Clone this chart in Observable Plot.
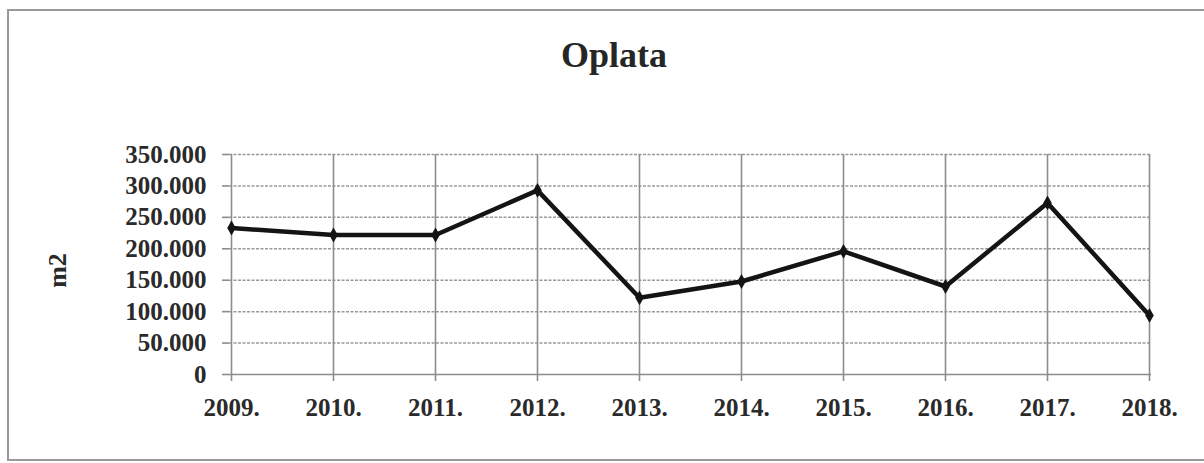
<!DOCTYPE html>
<html><head><meta charset="utf-8">
<script src="https://cdn.jsdelivr.net/npm/d3@7"></script>
<script src="https://cdn.jsdelivr.net/npm/@observablehq/plot@0.6"></script>
<style>
body{margin:0;background:#fff;}
#wrap{position:relative;width:1204px;height:463px;overflow:hidden;background:#fff;}
#frame{position:absolute;left:7px;top:9px;width:1240px;height:452px;border:2px solid #9a9a9a;box-sizing:border-box;}
#title{position:absolute;left:0;top:0;width:1204px;height:90px;}
#title h1{margin:0;position:absolute;left:614px;top:37px;transform:translateX(-50%);font:bold 36px "Liberation Serif",serif;line-height:36px;color:#262626;white-space:nowrap;}
#chart{position:absolute;left:0;top:90px;}
</style></head>
<body>
<div id="wrap">
  <div id="frame"></div>
  <div id="title"><h1>Oplata</h1></div>
  <div id="chart"></div>
</div>
<script>
const years = ["2009.","2010.","2011.","2012.","2013.","2014.","2015.","2016.","2017.","2018."];
const values = [233000, 222000, 222000, 293000, 122000, 148000, 196000, 140000, 273000, 94000];
const yTicks = [0, 50000, 100000, 150000, 200000, 250000, 300000, 350000];
const yLabel = "m2";

const data = years.map((y, i) => ({year: y, value: values[i]}));
const fmt = d => d === 0 ? "0" : d3.format(",.0f")(d).replace(/,/g, ".");

const chart = Plot.plot({
  width: 1204,
  height: 373,
  marginLeft: 229,
  marginRight: 53,
  marginTop: 64,
  marginBottom: 89,
  style: {background: "transparent", color: "#2a2a2a", fontFamily: "'Liberation Serif', serif", fontWeight: "bold", overflow: "visible"},
  x: {type: "point", domain: years, padding: 0, label: null},
  y: {domain: [0, 350000], label: null},
  marks: [
    Plot.ruleY(yTicks.filter(d => d > 0), {stroke: "#999999", strokeWidth: 1.5, strokeDasharray: "3,1.5"}),
    Plot.ruleX(years, {stroke: "#8c8c8c", strokeWidth: 1.6}),
    Plot.ruleY([0], {stroke: "#8c8c8c", strokeWidth: 1.6}),
    Plot.axisX({fontSize: 25, tickSize: 7, tickPadding: 17, stroke: "#8c8c8c", strokeWidth: 1.6}),
    Plot.axisY({ticks: yTicks, tickFormat: fmt, fontSize: 25, tickSize: 7, tickPadding: 16, stroke: "#8c8c8c", strokeWidth: 1.6, letterSpacing: 0.5}),
    Plot.line(data, {x: "year", y: "value", stroke: "#141414", strokeWidth: 4.5, strokeLinejoin: "round"}),
    Plot.dot(data, {x: "year", y: "value", symbol: "diamond", r: 4.5, fill: "#141414", stroke: "none"}),
    Plot.text([yLabel], {frameAnchor: "left", text: d => d, dx: -172, dy: 6, rotate: -90, fontSize: 26, fontWeight: "bold", fill: "#2a2a2a", textAnchor: "middle", lineAnchor: "middle"})
  ]
});
document.getElementById("chart").appendChild(chart);
</script>
</body></html>
